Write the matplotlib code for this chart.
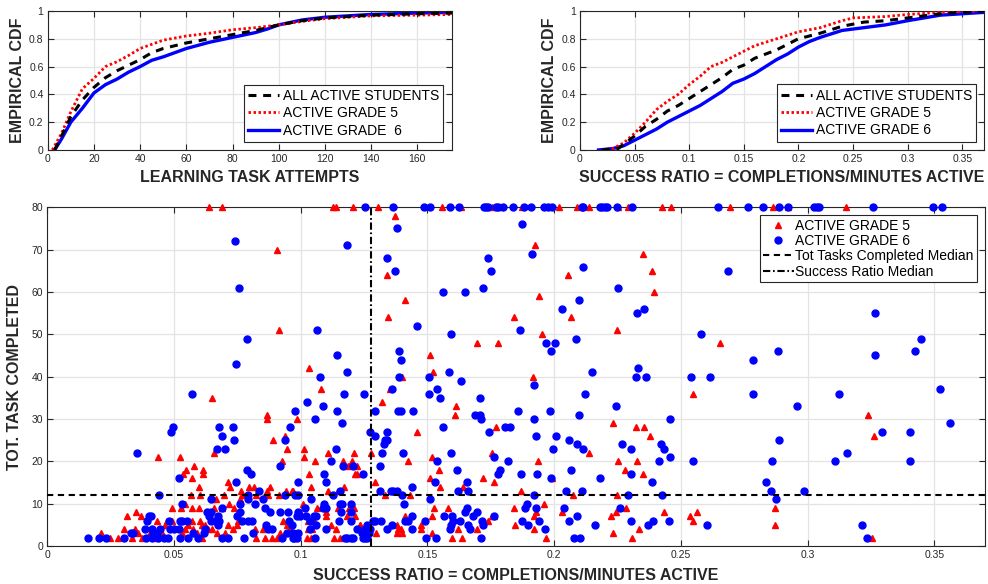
import matplotlib
matplotlib.use("Agg")
import matplotlib.pyplot as plt
from matplotlib.lines import Line2D

plt.rcParams['font.family'] = ['Liberation Sans', 'DejaVu Sans']

# ---------------- empirical CDF: learning task attempts ----------------
att_all_x = [3, 6, 10, 15, 20, 25, 30, 35, 40, 45, 50, 60, 70, 80, 90, 100, 110, 120, 140, 160, 175]
att_all_y = [0, 0.10, 0.24, 0.36, 0.45, 0.52, 0.57, 0.61, 0.65, 0.70, 0.73, 0.77, 0.80, 0.83, 0.86, 0.90, 0.93, 0.95, 0.97, 0.98, 0.985]
att_g5_x = [2, 6, 10, 15, 20, 25, 30, 35, 40, 50, 60, 70, 80, 90, 100, 110, 120, 140, 160, 175]
att_g5_y = [0, 0.12, 0.275, 0.44, 0.515, 0.60, 0.635, 0.68, 0.73, 0.79, 0.82, 0.84, 0.865, 0.88, 0.90, 0.925, 0.945, 0.965, 0.97, 0.975]
att_g6_x = [3, 6, 10, 15, 20, 25, 30, 35, 40, 45, 50, 60, 70, 80, 90, 95, 100, 110, 120, 140, 160, 175]
att_g6_y = [0, 0.08, 0.20, 0.30, 0.41, 0.47, 0.51, 0.56, 0.60, 0.645, 0.67, 0.73, 0.775, 0.81, 0.845, 0.87, 0.90, 0.935, 0.955, 0.975, 0.985, 0.99]

# ---------------- empirical CDF: success ratio ----------------
sr_all_x = [0.02, 0.035, 0.05, 0.06, 0.07, 0.08, 0.09, 0.10, 0.11, 0.12, 0.13, 0.14, 0.15, 0.16, 0.17, 0.18, 0.19, 0.20, 0.22, 0.24, 0.26, 0.28, 0.30, 0.33, 0.37]
sr_all_y = [0, 0.01, 0.10, 0.17, 0.22, 0.28, 0.32, 0.37, 0.42, 0.47, 0.52, 0.58, 0.61, 0.66, 0.69, 0.72, 0.76, 0.80, 0.84, 0.89, 0.92, 0.93, 0.95, 0.98, 1.0]
sr_g5_x = [0.02, 0.03, 0.04, 0.05, 0.06, 0.07, 0.08, 0.09, 0.10, 0.11, 0.12, 0.13, 0.14, 0.15, 0.16, 0.18, 0.20, 0.22, 0.24, 0.25, 0.28, 0.30, 0.33, 0.37]
sr_g5_y = [0, 0.01, 0.05, 0.12, 0.20, 0.29, 0.35, 0.40, 0.47, 0.53, 0.60, 0.63, 0.67, 0.71, 0.75, 0.80, 0.85, 0.88, 0.93, 0.95, 0.96, 0.975, 0.99, 1.0]
sr_g6_x = [0.017, 0.03, 0.04, 0.05, 0.06, 0.07, 0.08, 0.09, 0.10, 0.11, 0.12, 0.13, 0.14, 0.15, 0.16, 0.17, 0.18, 0.19, 0.20, 0.21, 0.22, 0.24, 0.26, 0.28, 0.30, 0.33, 0.37]
sr_g6_y = [0, 0.01, 0.03, 0.07, 0.11, 0.15, 0.20, 0.24, 0.28, 0.32, 0.37, 0.42, 0.48, 0.51, 0.55, 0.60, 0.65, 0.69, 0.74, 0.78, 0.81, 0.86, 0.88, 0.90, 0.93, 0.97, 0.99]

# ---------------- scatter: (success ratio, total tasks completed) ----------------
# values above the axis limit are shown on the top edge at 80
g5_points = [
    (0.0638, 80), (0.0691, 80), (0.1129, 80), (0.1138, 80), (0.1205, 80), (0.1304, 80), (0.1559, 80),
    (0.1633, 80), (0.1756, 80), (0.1787, 80), (0.1872, 80), (0.2021, 80), (0.2089, 80), (0.2138, 80),
    (0.2253, 80), (0.2293, 80), (0.2425, 80), (0.2461, 80), (0.2694, 80), (0.2865, 80), (0.2922, 80), (0.3152, 80),
    (0.0905, 70), (0.0913, 51), (0.1372, 78), (0.1341, 64), (0.1410, 58), (0.1345, 54), (0.1840, 54),
    (0.1696, 48), (0.1780, 48), (0.1512, 45), (0.1033, 42), (0.1523, 41), (0.1401, 40),
    (0.1923, 71), (0.2352, 69), (0.2056, 64), (0.2386, 65), (0.2396, 60), (0.1940, 59), (0.2067, 54),
    (0.2249, 51), (0.1951, 50), (0.2655, 48), (0.1917, 40),
    (0.3240, 31), (0.3264, 26), (0.2871, 9), (0.2871, 5), (0.3254, 2),
    (0.2549, 36), (0.2234, 29), (0.2324, 28), (0.2356, 28), (0.2377, 26), (0.2138, 22), (0.1938, 20),
    (0.2253, 20), (0.2327, 20), (0.2281, 18), (0.2350, 17), (0.1992, 16), (0.1868, 13), (0.2076, 12),
    (0.2247, 12), (0.1960, 10), (0.2031, 8), (0.2283, 9), (0.2246, 8), (0.2223, 7), (0.2435, 8),
    (0.2535, 7), (0.2564, 8), (0.2549, 6), (0.1930, 8), (0.1922, 7), (0.1921, 4), (0.1969, 2),
    (0.2231, 3), (0.2334, 4), (0.2307, 2),
    (0.1079, 37), (0.1354, 37), (0.1320, 34), (0.1612, 33), (0.1609, 31), (0.0984, 30), (0.1769, 28),
    (0.1459, 27), (0.0938, 26), (0.0945, 23), (0.1013, 23), (0.1109, 22), (0.1212, 22), (0.1276, 22),
    (0.1519, 21), (0.1756, 22), (0.1013, 21), (0.1058, 20), (0.1166, 20), (0.1201, 20), (0.1423, 20),
    (0.1188, 19), (0.1221, 19), (0.1545, 18), (0.1032, 17), (0.1214, 17), (0.1223, 17), (0.1509, 16),
    (0.1721, 16), (0.1763, 15), (0.1042, 14), (0.1170, 14), (0.1294, 15), (0.1549, 14), (0.1642, 14),
    (0.0970, 13), (0.1107, 13), (0.1146, 13), (0.1333, 12), (0.1431, 12), (0.1526, 9), (0.1582, 9),
    (0.1843, 9), (0.0987, 8), (0.0997, 8), (0.1063, 9), (0.1101, 8), (0.1101, 7), (0.1148, 9),
    (0.1210, 9), (0.0958, 6), (0.1030, 6), (0.1118, 5), (0.1235, 5), (0.1267, 5), (0.1130, 2),
    (0.1155, 2), (0.1026, 2), (0.0959, 4), (0.1043, 4),
    (0.1010, 10), (0.1053, 6), (0.1184, 7), (0.1192, 9), (0.1214, 7), (0.1234, 5), (0.1138, 4),
    (0.1041, 2), (0.1030, 4), (0.1287, 6), (0.1297, 3), (0.1379, 5), (0.1382, 4), (0.1395, 4),
    (0.1379, 3), (0.1400, 3), (0.1412, 7), (0.1475, 5), (0.1475, 4), (0.1517, 7), (0.1517, 3),
    (0.1598, 2), (0.1620, 4), (0.1635, 2), (0.1694, 4), (0.1738, 6), (0.1755, 7), (0.1846, 5), (0.1763, 7),
    (0.0651, 35), (0.0867, 31), (0.0867, 30), (0.0891, 25), (0.0659, 22), (0.0437, 21), (0.0525, 21),
    (0.0925, 20), (0.0580, 19), (0.0547, 18), (0.0616, 18), (0.0537, 17), (0.0614, 17), (0.0570, 16),
    (0.0712, 15), (0.0720, 14), (0.0597, 14), (0.0764, 13), (0.0795, 14), (0.0817, 14), (0.0879, 14),
    (0.0942, 13), (0.0868, 13), (0.0566, 12), (0.0603, 12), (0.0664, 11), (0.0760, 11),
    (0.0965, 13), (0.0649, 11), (0.0699, 12), (0.0767, 12), (0.0824, 12), (0.0870, 12), (0.0914, 12),
    (0.0493, 9), (0.0528, 9), (0.0543, 10), (0.0570, 9), (0.0600, 9), (0.0659, 9), (0.0691, 9),
    (0.0717, 10), (0.0738, 9), (0.0570, 6), (0.0603, 6), (0.0609, 5), (0.0622, 5), (0.0556, 5),
    (0.0543, 4), (0.0493, 6), (0.0464, 5), (0.0471, 6), (0.0530, 3), (0.0576, 4), (0.0589, 3),
    (0.0609, 2), (0.0635, 4), (0.0651, 4), (0.0668, 3), (0.0701, 3), (0.0714, 5), (0.0734, 4),
    (0.0747, 5), (0.0754, 6), (0.0820, 4), (0.0824, 2), (0.0852, 4), (0.0859, 2), (0.0886, 2),
    (0.0905, 2), (0.0931, 6), (0.0945, 5), (0.0938, 3), (0.0918, 3), (0.0211, 3), (0.0249, 2),
    (0.0280, 2), (0.0304, 4), (0.0313, 7), (0.0333, 2), (0.0346, 4), (0.0350, 8), (0.0359, 3),
    (0.0370, 7), (0.0373, 2), (0.0405, 3), (0.0432, 2), (0.0451, 3), (0.0432, 6),
]

g6_points = [
    (0.1255, 80), (0.1363, 80), (0.1488, 80), (0.1510, 80), (0.1589, 80), (0.1626, 80), (0.1723, 80),
    (0.1731, 80), (0.1740, 80), (0.1771, 80), (0.1780, 80), (0.1797, 80), (0.1839, 80), (0.1882, 80),
    (0.1909, 80), (0.1961, 80), (0.1977, 80), (0.1990, 80), (0.2109, 80), (0.2115, 80), (0.2181, 80),
    (0.2188, 80), (0.2201, 80), (0.2210, 80), (0.2249, 80), (0.2308, 80), (0.2648, 80), (0.2764, 80),
    (0.2826, 80), (0.2888, 80), (0.2924, 80), (0.3027, 80), (0.3036, 80), (0.3045, 80), (0.3257, 80),
    (0.3497, 80), (0.3531, 80),
    (0.0741, 72), (0.0758, 61), (0.0787, 49), (0.0743, 43),
    (0.1875, 76), (0.1381, 75), (0.1181, 71), (0.1339, 68), (0.1738, 68), (0.1372, 65), (0.1750, 65),
    (0.1562, 60), (0.1648, 60), (0.1719, 61), (0.1459, 52), (0.1066, 51), (0.1867, 51), (0.1593, 50),
    (0.1387, 46), (0.1396, 44), (0.1142, 45), (0.1183, 41), (0.1584, 41), (0.1076, 40), (0.1389, 40),
    (0.1505, 40), (0.1633, 39),
    (0.1912, 69), (0.2113, 66), (0.2688, 65), (0.2251, 61), (0.2100, 58), (0.2032, 56), (0.2356, 56),
    (0.2328, 55), (0.2088, 49), (0.1967, 48), (0.2004, 48), (0.1989, 46), (0.2578, 50), (0.2784, 44),
    (0.2150, 41), (0.2332, 42), (0.2322, 40), (0.2363, 40), (0.2540, 40), (0.2614, 40),
    (0.3267, 55), (0.3448, 49), (0.2884, 46), (0.3265, 45), (0.3424, 46),
    (0.2784, 36), (0.3126, 36), (0.3524, 37), (0.2959, 33), (0.3564, 29), (0.3295, 27), (0.3405, 27),
    (0.2888, 25), (0.3157, 22), (0.2859, 20), (0.3107, 20), (0.3405, 20), (0.2836, 15), (0.2855, 13),
    (0.2985, 13), (0.2876, 11), (0.3214, 5), (0.3236, 2),
    (0.1922, 38), (0.2122, 36), (0.1859, 32), (0.1985, 32), (0.2246, 33), (0.2097, 31), (0.1922, 30),
    (0.2456, 30), (0.1927, 26), (0.2006, 26), (0.2058, 25), (0.2089, 24), (0.2113, 23), (0.1996, 23),
    (0.2267, 24), (0.2303, 23), (0.2421, 24), (0.2435, 23), (0.2457, 21), (0.2415, 20), (0.2547, 20),
    (0.2065, 18), (0.2303, 17), (0.1871, 17), (0.1932, 17), (0.2181, 16), (0.1989, 16), (0.2386, 15),
    (0.2047, 13), (0.2111, 13), (0.1919, 12), (0.2293, 12), (0.2427, 12), (0.1892, 10), (0.1886, 9),
    (0.1930, 9), (0.2040, 9), (0.2259, 9), (0.1875, 6), (0.1897, 5), (0.1940, 6), (0.1963, 4),
    (0.2060, 6), (0.2089, 7), (0.2161, 5), (0.2305, 6), (0.2369, 5), (0.2392, 6), (0.2453, 6),
    (0.2603, 5), (0.2080, 2), (0.2102, 2),
    (0.1172, 36), (0.1251, 36), (0.1359, 37), (0.1506, 36), (0.1539, 37), (0.1549, 35), (0.1709, 35),
    (0.1024, 34), (0.1088, 33), (0.0976, 32), (0.1144, 32), (0.1292, 32), (0.1384, 32), (0.1395, 32),
    (0.1444, 32), (0.1687, 31), (0.1706, 31), (0.1055, 30), (0.1711, 30), (0.1163, 29), (0.0958, 28),
    (0.1563, 28), (0.1805, 28), (0.1826, 28), (0.1742, 27), (0.1272, 27), (0.1341, 27), (0.1292, 26),
    (0.1334, 25), (0.1339, 25), (0.1329, 24), (0.1139, 23), (0.1320, 22), (0.1404, 22), (0.1593, 22),
    (0.1763, 21), (0.1120, 20), (0.1538, 20), (0.1817, 20), (0.1168, 19), (0.1208, 19), (0.1312, 19),
    (0.1788, 18), (0.1616, 18), (0.1247, 17), (0.1092, 17), (0.1780, 17), (0.1529, 15), (0.0988, 15),
    (0.1099, 15), (0.1657, 15), (0.1440, 14), (0.1154, 13), (0.1313, 13), (0.1356, 13), (0.1366, 13),
    (0.1379, 13), (0.1622, 13), (0.1660, 13), (0.0938, 12), (0.0977, 12), (0.0988, 12), (0.1129, 12),
    (0.1399, 12), (0.1510, 11), (0.1406, 10), (0.0949, 8), (0.0991, 8), (0.1017, 9), (0.1052, 7),
    (0.1092, 10), (0.1101, 9), (0.1164, 10), (0.1200, 10), (0.1158, 8), (0.1197, 8), (0.1020, 7),
    (0.1037, 6), (0.1060, 5), (0.1099, 4), (0.1221, 4), (0.1255, 4), (0.1284, 6), (0.0945, 3),
    (0.0971, 3), (0.0991, 3), (0.1037, 4), (0.1056, 2), (0.1181, 2), (0.1197, 2), (0.1241, 3),
    (0.1254, 2), (0.1270, 3), (0.1293, 6), (0.1318, 6), (0.1360, 5), (0.1339, 4),
    (0.1039, 11), (0.0984, 7), (0.0997, 7), (0.1060, 7), (0.1089, 9), (0.1155, 10), (0.1151, 6),
    (0.1199, 6), (0.1175, 2), (0.1208, 2), (0.0984, 2), (0.0974, 2), (0.1245, 2), (0.1263, 2),
    (0.1258, 4), (0.1263, 5), (0.1273, 4), (0.1412, 6), (0.1425, 6), (0.1438, 7), (0.1438, 4),
    (0.1491, 6), (0.1494, 2), (0.1533, 2), (0.1567, 7), (0.1598, 7), (0.1602, 6), (0.1593, 5),
    (0.1589, 4), (0.1629, 6), (0.1648, 8), (0.1655, 9), (0.1659, 5), (0.1668, 4), (0.1679, 7),
    (0.1694, 8), (0.1710, 2), (0.1714, 6), (0.1721, 5), (0.1763, 7),
    (0.0571, 36), (0.0676, 28), (0.0734, 28), (0.0691, 26), (0.0738, 25), (0.0938, 25), (0.0487, 27),
    (0.0497, 28), (0.0670, 23), (0.0701, 23), (0.0353, 22), (0.0918, 19), (0.0789, 18), (0.0804, 17),
    (0.0745, 15), (0.0520, 16), (0.0835, 13), (0.0440, 12), (0.0646, 11), (0.0793, 11), (0.0850, 11),
    (0.0793, 12), (0.0760, 10), (0.0820, 10), (0.0859, 9), (0.0879, 8), (0.0918, 8), (0.0530, 10),
    (0.0631, 8), (0.0645, 8), (0.0688, 9), (0.0760, 8), (0.0675, 7), (0.0678, 6), (0.0646, 6),
    (0.0638, 7), (0.0530, 6), (0.0523, 6), (0.0550, 6), (0.0481, 6), (0.0484, 4), (0.0501, 4),
    (0.0520, 4), (0.0523, 2), (0.0556, 2), (0.0576, 3), (0.0596, 2), (0.0618, 3), (0.0622, 4),
    (0.0662, 6), (0.0675, 5), (0.0688, 2), (0.0712, 2), (0.0750, 7), (0.0767, 6), (0.0793, 6),
    (0.0807, 6), (0.0776, 2), (0.0813, 3), (0.0863, 5), (0.0872, 4), (0.0886, 4), (0.0955, 6),
    (0.0965, 5), (0.0928, 2), (0.0971, 2), (0.0159, 2), (0.0204, 2), (0.0230, 2), (0.0304, 2),
    (0.0330, 3), (0.0339, 3), (0.0390, 2), (0.0412, 2), (0.0436, 2), (0.0462, 2), (0.0478, 2),
    (0.0392, 6), (0.0401, 7), (0.0409, 7), (0.0386, 4), (0.0412, 4), (0.0445, 4), (0.0432, 3), (0.0418, 3),
]

tasks_median = 12
ratio_median = 0.1276

att_ticks = [0, 20, 40, 60, 80, 100, 120, 140, 160]
ratio_ticks = [0, 0.05, 0.1, 0.15, 0.2, 0.25, 0.3, 0.35]
cdf_ticks = [0, 0.2, 0.4, 0.6, 0.8, 1]
task_ticks = [0, 10, 20, 30, 40, 50, 60, 70, 80]

TXT = '#262626'
RED = '#ff0000'
BLUE = '#0000ff'


def fmt(v):
    return '%g' % v


def style(ax):
    ax.grid(True, color='#e3e3e3', linewidth=0.9)
    ax.set_axisbelow(True)
    ax.tick_params(direction='in', top=True, right=True, length=4.5, width=0.8,
                   colors=TXT, labelsize=7.5, labelcolor=TXT, pad=3)
    for s in ax.spines.values():
        s.set_color(TXT)
        s.set_linewidth(0.8)


fig = plt.figure(figsize=(9.88, 5.84), dpi=100)

# ---- top left: task attempts CDF ----
ax1 = fig.add_axes([0.0483, 0.7432, 0.4092, 0.238])
style(ax1)
ax1.plot(att_all_x, att_all_y, color='black', lw=2.2, ls=(0, (2.6, 2.2)), label='ALL ACTIVE STUDENTS', zorder=4)
ax1.plot(att_g5_x, att_g5_y, color=RED, lw=2.0, ls=(0, (0.9, 0.9)), label='ACTIVE GRADE 5', zorder=3)
ax1.plot(att_g6_x, att_g6_y, color=BLUE, lw=2.4, ls='-', label='ACTIVE GRADE  6', zorder=2)
ax1.set_xlim(0, 175)
ax1.set_ylim(0, 1)
ax1.set_xticks(att_ticks)
ax1.set_xticklabels([fmt(t) for t in att_ticks])
ax1.set_yticks(cdf_ticks)
ax1.set_yticklabels([fmt(t) for t in cdf_ticks])
ax1.set_xlabel('LEARNING TASK ATTEMPTS', fontsize=11.5, fontweight='bold', color=TXT, labelpad=4.5)
ax1.set_ylabel('EMPIRICAL CDF', fontsize=11.5, fontweight='bold', color=TXT, labelpad=3)
leg1 = ax1.legend(loc='lower right', bbox_to_anchor=(0.978, 0.058), borderaxespad=0, fontsize=10,
                  fancybox=False, framealpha=1, edgecolor=TXT, handlelength=2.2, handletextpad=0.3,
                  borderpad=0.3, labelspacing=0.25)
leg1.get_frame().set_linewidth(0.8)

# ---- top right: success ratio CDF ----
ax2 = fig.add_axes([0.587, 0.7432, 0.409, 0.238])
style(ax2)
ax2.plot(sr_all_x, sr_all_y, color='black', lw=2.2, ls=(0, (2.6, 2.2)), label='ALL ACTIVE STUDENTS', zorder=4)
ax2.plot(sr_g5_x, sr_g5_y, color=RED, lw=2.0, ls=(0, (0.9, 0.9)), label='ACTIVE GRADE 5', zorder=3)
ax2.plot(sr_g6_x, sr_g6_y, color=BLUE, lw=2.4, ls='-', label='ACTIVE GRADE 6', zorder=2)
ax2.set_xlim(0, 0.37)
ax2.set_ylim(0, 1)
ax2.set_xticks(ratio_ticks)
ax2.set_xticklabels([fmt(t) for t in ratio_ticks])
ax2.set_yticks(cdf_ticks)
ax2.set_yticklabels([fmt(t) for t in cdf_ticks])
ax2.set_xlabel('SUCCESS RATIO = COMPLETIONS/MINUTES ACTIVE', fontsize=11.5, fontweight='bold', color=TXT, labelpad=4.5)
ax2.set_ylabel('EMPIRICAL CDF', fontsize=11.5, fontweight='bold', color=TXT, labelpad=3)
leg2 = ax2.legend(loc='lower right', bbox_to_anchor=(0.981, 0.06), borderaxespad=0, fontsize=10,
                  fancybox=False, framealpha=1, edgecolor=TXT, handlelength=2.2, handletextpad=0.3,
                  borderpad=0.3, labelspacing=0.25)
leg2.get_frame().set_linewidth(0.8)

# ---- bottom: scatter of tasks completed vs success ratio ----
ax3 = fig.add_axes([0.0479, 0.0651, 0.949, 0.5799])
style(ax3)
g5_x = [p[0] for p in g5_points]
g5_y = [p[1] for p in g5_points]
g6_x = [p[0] for p in g6_points]
g6_y = [p[1] for p in g6_points]
ax3.plot(g5_x, g5_y, ls='none', marker='^', ms=5, color=RED, mec=RED, clip_on=False, zorder=3)
ax3.plot(g6_x, g6_y, ls='none', marker='o', ms=5, color=BLUE, mec=BLUE, clip_on=False, zorder=4)
ax3.axhline(tasks_median, color='black', lw=1.5, ls=(0, (3, 2.2)), zorder=5)
ax3.axvline(ratio_median, color='black', lw=1.5, ls=(0, (3.5, 1.3, 0.8, 1.3)), zorder=5)
ax3.set_xlim(0, 0.37)
ax3.set_ylim(0, 80)
ax3.set_xticks(ratio_ticks)
ax3.set_xticklabels([fmt(t) for t in ratio_ticks])
ax3.set_yticks(task_ticks)
ax3.set_yticklabels([fmt(t) for t in task_ticks])
ax3.set_xlabel('SUCCESS RATIO = COMPLETIONS/MINUTES ACTIVE', fontsize=11.5, fontweight='bold', color=TXT, labelpad=6)
ax3.set_ylabel('TOT. TASK COMPLETED', fontsize=11.5, fontweight='bold', color=TXT, labelpad=7)

handles = [
    Line2D([], [], ls='none', marker='^', ms=5, color=RED),
    Line2D([], [], ls='none', marker='o', ms=5, color=BLUE),
    Line2D([], [], color='black', lw=1.5, ls=(0, (3, 2.2))),
    Line2D([], [], color='black', lw=1.5, ls=(0, (3.5, 1.3, 0.8, 1.3))),
]
labels = ['ACTIVE GRADE 5', 'ACTIVE GRADE 6', 'Tot Tasks Completed Median', 'Success Ratio Median']
leg3 = ax3.legend(handles, labels, loc='upper right', bbox_to_anchor=(0.9915, 0.977), borderaxespad=0,
                  fontsize=10, fancybox=False, framealpha=1, edgecolor=TXT, handlelength=2.2,
                  handletextpad=0.1, borderpad=0.25, labelspacing=0.1)
leg3.get_frame().set_linewidth(0.8)
leg3.set_zorder(10)

fig.savefig('out.png', dpi=100)
